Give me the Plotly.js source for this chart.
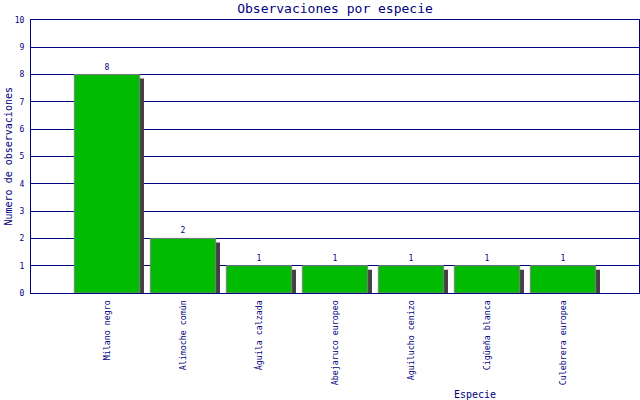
<!DOCTYPE html>
<html>
<head>
<meta charset="utf-8">
<script src="https://cdn.plot.ly/plotly-3.0.1.min.js"></script>
<style>
  html, body { margin: 0; padding: 0; background: #fff; }
  #plot { width: 640px; height: 400px; }
</style>
</head>
<body>
<div id="plot"></div>
<script>
var especies = ['Milano negro', 'Alimoche común', 'Águila calzada', 'Abejaruco europeo',
  'Aguilucho cenizo', 'Cigüeña blanca', 'Culebrera europea'];
var observaciones = [8, 2, 1, 1, 1, 1, 1];
var yTicks = [0, 1, 2, 3, 4, 5, 6, 7, 8, 9, 10];

var navy = '#000080';
var mono = '"DejaVu Sans Mono", "Liberation Mono", monospace';

// plot area in pixels, used to turn the shadow's pixel offset into data units
var plotW = 608, plotH = 273;
var barWidth = 0.86;
var shadowDx = 4.3 * 8 / plotW;   // 8 category slots across the plot
var shadowDy = 4 * 10 / plotH;    // y range 0..10

var shadowY = [];
for (var i = 0; i < observaciones.length; i++) {
  shadowY.push(Math.max(observaciones[i] - shadowDy, 0));
}

var shadow = {
  x: especies,
  y: shadowY,
  type: 'bar',
  width: barWidth,
  offset: -barWidth / 2 + shadowDx,
  marker: { color: '#404040', line: { width: 0 } },
  hoverinfo: 'skip'
};

var bars = {
  x: especies,
  y: observaciones,
  type: 'bar',
  width: barWidth,
  offset: -barWidth / 2,
  marker: { color: '#00bb00', line: { color: '#808080', width: 1 } },
  text: observaciones.map(String),
  textposition: 'outside',
  textfont: { family: mono, size: 8, color: navy },
  cliponaxis: false
};

var layout = {
  width: 640,
  height: 400,
  showlegend: false,
  barmode: 'overlay',
  paper_bgcolor: '#ffffff',
  plot_bgcolor: '#ffffff',
  margin: { l: 31, r: 1, t: 20, b: 107, pad: 0 },
  title: {
    text: 'Observaciones por especie',
    font: { family: mono, size: 13, color: navy },
    xref: 'paper',
    x: 0.5,
    yref: 'container',
    y: 0.98,
    yanchor: 'middle'
  },
  xaxis: {
    type: 'category',
    range: [-1, 7],
    tickangle: -90,
    ticks: '',
    showgrid: false,
    showline: true,
    linecolor: navy,
    linewidth: 1,
    mirror: true,
    zeroline: false,
    ticklabelstandoff: 3,
    tickfont: { family: mono, size: 8.3, color: navy }
  },
  yaxis: {
    range: [0, 10],
    tickvals: yTicks,
    ticktext: yTicks.map(String),
    ticks: '',
    showgrid: true,
    gridcolor: navy,
    gridwidth: 1,
    showline: true,
    linecolor: navy,
    linewidth: 1,
    mirror: true,
    zeroline: false,
    ticklabelstandoff: 4,
    tickfont: { family: mono, size: 8, color: navy }
  },
  annotations: [{
    xref: 'paper',
    yref: 'paper',
    x: (8 - 31) / plotW,
    y: 0.5,
    xanchor: 'center',
    yanchor: 'middle',
    textangle: -90,
    text: 'Numero de observaciones',
    showarrow: false,
    font: { family: mono, size: 10, color: navy }
  }, {
    xref: 'paper',
    yref: 'paper',
    x: (475 - 31) / plotW,
    y: (293 - 394) / plotH,
    xanchor: 'center',
    yanchor: 'middle',
    text: 'Especie',
    showarrow: false,
    font: { family: mono, size: 10, color: navy }
  }]
};

Plotly.newPlot('plot', [shadow, bars], layout, { staticPlot: true });
</script>
</body>
</html>
